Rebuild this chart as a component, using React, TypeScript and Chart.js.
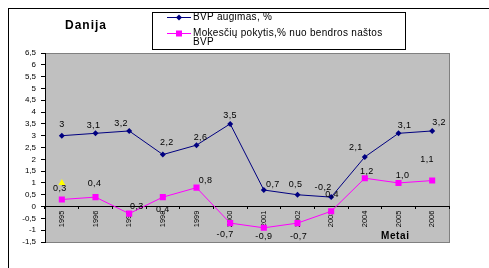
import React, { useEffect, useRef } from 'react';
import { Chart, registerables } from 'chart.js';
Chart.register(...registerables);

const years = ['1995', '1996', '1997', '1998', '1999', '2000', '2001', '2002', '2003', '2004', '2005', '2006'];
const bvpGrowth = [3, 3.1, 3.2, 2.2, 2.6, 3.5, 0.7, 0.5, 0.4, 2.1, 3.1, 3.2];
const taxChange = [0.3, 0.4, -0.3, 0.4, 0.8, -0.7, -0.9, -0.7, -0.2, 1.2, 1.0, 1.1];
const extraPoint = [1, null, null, null, null, null, null, null, null, null, null, null];
const seriesNames = ['BVP augimas, %', 'Mokesčių pokytis,% nuo bendros naštos BVP'];
const legendLines2 = ['Mokesčių pokytis,% nuo bendros naštos', 'BVP'];
const chartTitle = 'Danija';
const xTitle = 'Metai';
const yMin = -1.5;
const yMax = 6.5;
const yStep = 0.5;

// label placement relative to each point (style only)
const blueLabelShift = [[0, -11], [-2, -8], [-8, -7], [4, -12], [4, -8], [0, -8], [9, -6], [-2, -10], [1, -3], [-9, -9], [6, -8], [7, -8]];
const pinkLabelShift = [[-2, -11], [-1, -14], [6, -7], [0, 12], [9, -7], [-5, 11], [0, 9], [1, 13], [-8, -24], [2, -7], [4, -7], [-5, -21]];

const FONT = '"Liberation Sans", Arial, sans-serif';
const BLUE = '#000080';
const PINK = '#FF00FF';

const fmtComma = (v: number, fixed: boolean) => (fixed ? v.toFixed(1) : String(v)).replace('.', ',');

const decorPlugin = {
  id: 'decor',
  beforeDraw(chart: any) {
    const { ctx, chartArea: a } = chart;
    ctx.save();
    ctx.fillStyle = '#C0C0C0';
    ctx.fillRect(a.left, a.top, a.right - a.left, a.bottom - a.top);
    ctx.strokeStyle = '#808080';
    ctx.lineWidth = 1;
    ctx.strokeRect(Math.round(a.left) + 0.5, Math.round(a.top) + 0.5, Math.round(a.right - a.left), Math.round(a.bottom - a.top));
    ctx.restore();
  },
  afterDatasetsDraw(chart: any) {
    const { ctx } = chart;
    ctx.save();
    ctx.fillStyle = '#000';
    ctx.font = `9px ${FONT}`;
    ctx.textAlign = 'center';
    ctx.textBaseline = 'middle';
    (ctx as any).letterSpacing = '0.4px';
    const m0 = chart.getDatasetMeta(0);
    m0.data.forEach((p: any, i: number) => {
      const s = blueLabelShift[i];
      ctx.fillText(fmtComma(bvpGrowth[i], false), p.x + s[0], p.y + s[1]);
    });
    const m1 = chart.getDatasetMeta(1);
    m1.data.forEach((p: any, i: number) => {
      const s = pinkLabelShift[i];
      ctx.fillText(fmtComma(taxChange[i], true), p.x + s[0], p.y + s[1]);
    });
    // axis title
    ctx.font = `bold 10px ${FONT}`;
    (ctx as any).letterSpacing = '0.6px';
    ctx.textAlign = 'left';
    ctx.fillText(xTitle, 372, 227);
    // chart title
    ctx.font = `bold 12px ${FONT}`;
    (ctx as any).letterSpacing = '1px';
    ctx.fillText(chartTitle, 56, 17);
    // legend
    (ctx as any).letterSpacing = '0.3px';
    ctx.fillStyle = '#fff';
    ctx.fillRect(143, 3, 253, 37);
    ctx.strokeStyle = '#000';
    ctx.lineWidth = 1;
    ctx.strokeRect(143.5, 3.5, 253, 37);
    ctx.strokeStyle = BLUE;
    ctx.beginPath();
    ctx.moveTo(158, 8.5);
    ctx.lineTo(182, 8.5);
    ctx.stroke();
    ctx.fillStyle = BLUE;
    ctx.beginPath();
    ctx.moveTo(170, 5.5);
    ctx.lineTo(173, 8.5);
    ctx.lineTo(170, 11.5);
    ctx.lineTo(167, 8.5);
    ctx.closePath();
    ctx.fill();
    ctx.strokeStyle = PINK;
    ctx.beginPath();
    ctx.moveTo(158, 24.5);
    ctx.lineTo(182, 24.5);
    ctx.stroke();
    ctx.fillStyle = PINK;
    ctx.fillRect(167, 21.5, 6, 6);
    ctx.fillStyle = '#000';
    ctx.font = `10px ${FONT}`;
    ctx.textBaseline = 'middle';
    ctx.fillText(seriesNames[0], 184, 8.5);
    ctx.fillText(legendLines2[0], 184, 24.5);
    ctx.fillText(legendLines2[1], 184, 33.5);
    ctx.restore();
  },
};

export default function App() {
  const ref = useRef<HTMLCanvasElement>(null);
  useEffect(() => {
    const chart = new Chart(ref.current!, {
      type: 'line',
      data: {
        labels: years,
        datasets: [
          {
            label: seriesNames[0],
            data: bvpGrowth,
            borderColor: BLUE,
            backgroundColor: BLUE,
            borderWidth: 1,
            pointStyle: 'rectRot',
            pointRadius: 3,
            pointBorderWidth: 0,
          },
          {
            label: seriesNames[1],
            data: taxChange,
            borderColor: PINK,
            backgroundColor: PINK,
            borderWidth: 1,
            pointStyle: 'rect',
            pointRadius: 4.3,
            pointBorderWidth: 0,
          },
          {
            label: '',
            data: extraPoint,
            showLine: false,
            borderColor: '#FFFF00',
            backgroundColor: '#FFFF00',
            pointStyle: 'triangle',
            pointRadius: 4,
            pointBorderWidth: 0,
          },
        ],
      },
      options: {
        responsive: false,
        animation: false,
        layout: { padding: { left: 0, top: 44, right: 40, bottom: 26 } },
        plugins: { legend: { display: false }, title: { display: false }, tooltip: { enabled: false } },
        scales: {
          x: {
            type: 'category',
            offset: true,
            position: { y: 0 } as any,
            grid: { display: true, offset: true, drawOnChartArea: false, drawTicks: true, tickLength: 2, color: '#000' },
            border: { display: true, color: '#000', width: 1 },
            ticks: {
              color: '#000',
              font: { family: FONT, size: 7.5 },
              minRotation: 90,
              maxRotation: 90,
              padding: 2,
              autoSkip: false,
            },
          },
          y: {
            min: yMin,
            max: yMax,
            afterFit: (s: any) => {
              s.width = 36;
            },
            grid: { drawOnChartArea: false, drawTicks: true, tickLength: 4, color: '#000' },
            border: { display: true, color: '#000', width: 1 },
            ticks: {
              stepSize: yStep,
              autoSkip: false,
              color: '#000',
              padding: 5,
              font: { family: FONT, size: 8 },
              callback: (v: any) => String(v).replace('.', ','),
            },
          },
        },
      },
      plugins: [decorPlugin],
    });
    return () => chart.destroy();
  }, []);
  return (
    <div
      style={{
        position: 'fixed',
        left: 8,
        top: 8,
        width: 481,
        height: 260,
        borderLeft: '1px solid #000',
        borderTop: '1px solid #000',
        boxSizing: 'border-box',
      }}
    >
      <canvas ref={ref} width={480} height={259} style={{ display: 'block' }} />
    </div>
  );
}
